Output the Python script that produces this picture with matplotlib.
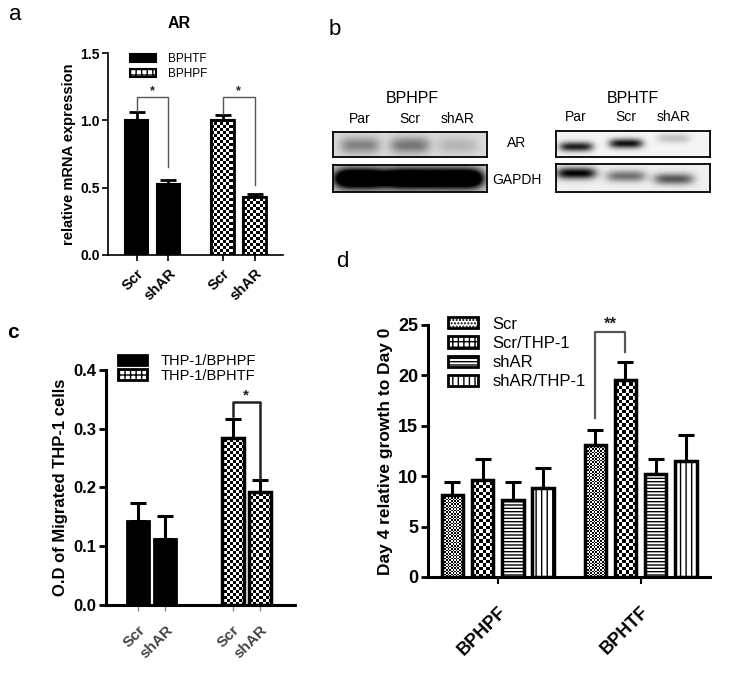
import numpy as np
import matplotlib
matplotlib.use('Agg')
import matplotlib.pyplot as plt
from matplotlib.patches import Patch

plt.rcParams['font.family'] = ['Liberation Sans', 'DejaVu Sans']

# panel a: AR mRNA
a_groups = ['BPHTF', 'BPHPF']
a_conds = ['Scr', 'shAR']
a_mean = [[1.00, 0.53], [1.00, 0.43]]
a_err = [[0.06, 0.03], [0.04, 0.02]]
a_sig = [(1.17, 1.07, 0.65), (1.17, 1.05, 0.52)]

# panel b: western blot band intensities (Par, Scr, shAR)
b_lanes = ['Par', 'Scr', 'shAR']
b_hpf_ar = [0.35, 0.40, 0.15]
b_hpf_gapdh = [1.6, 1.6, 1.6]
b_htf_ar = [0.85, 0.90, 0.20]
b_htf_gapdh = [0.95, 0.50, 0.60]

# panel c: migrated THP-1
c_groups = ['THP-1/BPHPF', 'THP-1/BPHTF']
c_conds = ['Scr', 'shAR']
c_mean = [[0.143, 0.112], [0.285, 0.193]]
c_err = [[0.031, 0.040], [0.032, 0.020]]
c_sig = (0.345, 0.322, 0.215)

# panel d: day 4 growth
d_groups = ['BPHPF', 'BPHTF']
d_series = ['Scr', 'Scr/THP-1', 'shAR', 'shAR/THP-1']
d_mean = [[8.1, 9.6, 7.6, 8.8], [13.1, 19.5, 10.2, 11.5]]
d_err = [[1.3, 2.1, 1.8, 2.0], [1.5, 1.8, 1.5, 2.6]]
d_sig = (24.3, 15.8, 22.3)

fig = plt.figure(figsize=(7.42, 6.78), dpi=100)


def checker(ax, bar, cell_px, z):
    # draw a checkerboard pattern clipped to a bar
    bb = ax.get_position()
    w = bb.width * fig.get_figwidth() * fig.dpi
    h = bb.height * fig.get_figheight() * fig.dpi
    nx, ny = int(round(w / cell_px)), int(round(h / cell_px))
    jj, ii = np.meshgrid(np.arange(nx), np.arange(ny))
    arr = (ii + jj) % 2
    im = ax.imshow(arr, extent=(0, 1, 0, 1), transform=ax.transAxes, cmap='gray',
                   interpolation='nearest', aspect='auto', zorder=z)
    im.set_clip_path(bar)


def style_axes(ax, lw):
    for s in ['top', 'right']:
        ax.spines[s].set_visible(False)
    for s in ['left', 'bottom']:
        ax.spines[s].set_linewidth(lw)


def bracket(ax, x0, x1, top, l, r, lw, color, star, fs):
    ax.plot([x0, x0, x1, x1], [l, top, top, r], color=color, lw=lw, zorder=4)
    ax.text((x0 + x1) / 2, top, star, ha='center', va='bottom', fontsize=fs,
            fontweight='bold', color='#222')


# ---------------- panel a ----------------
ax = fig.add_axes([0.1456, 0.6239, 0.2358, 0.2979])
gap = 2.69
xs_all = []
for g in range(2):
    xs = [g * gap + i for i in range(2)]
    xs_all += xs
    low = [0, 0]
    if g == 0:
        bars = ax.bar(xs, a_mean[g], 0.72, color='black', edgecolor='black', lw=1.5, zorder=2)
    else:
        bars = ax.bar(xs, a_mean[g], 0.72, color='white', edgecolor='black', lw=1.5, zorder=2)
        for b in bars:
            checker(ax, b, 3.0, 2.5)
        ax.bar(xs, a_mean[g], 0.72, fill=False, edgecolor='black', lw=2, zorder=3)
    ax.errorbar(xs, a_mean[g], yerr=[low, a_err[g]], fmt='none', ecolor='black',
                elinewidth=2, capsize=6, capthick=2, zorder=1)
    top, l, r = a_sig[g]
    bracket(ax, xs[0], xs[1], top, l, r, 1.0, '#555', '*', 9)
ax.set_xlim(-0.89, 4.58)
ax.set_ylim(0, 1.5)
ax.set_yticks([0, 0.5, 1.0, 1.5])
ax.set_yticklabels(['0.0', '0.5', '1.0', '1.5'], fontweight='bold', fontsize=10)
ax.set_xticks(xs_all)
ax.set_xticklabels(a_conds * 2, rotation=45, ha='right', rotation_mode='anchor',
                   fontweight='bold', fontsize=10.5)
ax.tick_params(length=4, width=1.2, pad=2)
ax.tick_params(axis='x', pad=4)
style_axes(ax, 1.2)
ax.set_ylabel('relative mRNA expression', fontweight='bold', fontsize=10.5, labelpad=3)
handles = [Patch(facecolor='black', edgecolor='black', lw=1.5),
           Patch(facecolor='white', edgecolor='black', hatch='+++', lw=1.5)]
ax.legend(handles, a_groups, loc='upper left', bbox_to_anchor=(0.175, 0.922),
          bbox_transform=fig.transFigure, frameon=False, fontsize=8.5,
          handlelength=2.2, handleheight=0.7, handletextpad=1.0, labelspacing=0.3,
          borderpad=0, borderaxespad=0)
fig.text(0.241, 0.966, 'AR', ha='center', va='center', fontsize=11.5, fontweight='bold')

# ---------------- panel b ----------------


def blot(rect, strengths, lane_x, ypos, ysig, xhalf, bg):
    bax = fig.add_axes(rect)
    x = np.linspace(0, 1, 240)[None, :]
    y = np.linspace(0, 1, 60)[:, None]
    img = np.full((60, 240), bg)
    for s, xc, yc in zip(strengths, lane_x, ypos):
        img = img + s * np.exp(-((x - xc) / xhalf) ** 4) * np.exp(-((y - yc) / ysig) ** 2)
    bax.imshow(np.clip(img, 0, 1), cmap='gray_r', vmin=0, vmax=1, aspect='auto',
               extent=(0, 1, 1, 0), interpolation='bilinear')
    bax.set_xticks([])
    bax.set_yticks([])
    for s in bax.spines.values():
        s.set_linewidth(1.3)
    return bax


lx_l = [0.175, 0.5, 0.81]
lx_r = [0.13, 0.455, 0.766]
blot([0.4488, 0.7684, 0.2075, 0.0369], b_hpf_ar, lx_l, [0.55] * 3, 0.32, 0.13, 0.14)
blot([0.4488, 0.7168, 0.2075, 0.0398], b_hpf_gapdh, lx_l, [0.5] * 3, 0.38, 0.17, 0.12)
blot([0.7493, 0.7684, 0.2075, 0.0384], b_htf_ar, lx_r, [0.62, 0.5, 0.3], 0.18, 0.11, 0.04)
blot([0.7493, 0.7168, 0.2075, 0.0413], b_htf_gapdh, lx_r, [0.35, 0.45, 0.55], 0.2, 0.13, 0.06)

fig.text(0.5553, 0.855, 'BPHPF', ha='center', va='center', fontsize=11.5)
fig.text(0.8531, 0.854, 'BPHTF', ha='center', va='center', fontsize=11.5)
for lab, xl, xr in zip(b_lanes, lx_l, lx_r):
    fig.text(0.4488 + 0.2075 * xl, 0.825, lab, ha='center', va='center', fontsize=10)
    fig.text(0.7493 + 0.2075 * xr, 0.827, lab, ha='center', va='center', fontsize=10)
fig.text(0.6968, 0.789, 'AR', ha='center', va='center', fontsize=10)
fig.text(0.6968, 0.7345, 'GAPDH', ha='center', va='center', fontsize=10)

# ---------------- panel c ----------------
ax = fig.add_axes([0.1429, 0.1077, 0.2547, 0.3466])
gap = 3.44
xs_all = []
for g in range(2):
    xs = [g * gap + i for i in range(2)]
    xs_all += xs
    if g == 0:
        ax.bar(xs, c_mean[g], 0.8, color='black', edgecolor='black', lw=2, zorder=2)
    else:
        bars = ax.bar(xs, c_mean[g], 0.8, color='white', edgecolor='black', lw=2, zorder=2)
        for b in bars:
            checker(ax, b, 3.0, 2.5)
        ax.bar(xs, c_mean[g], 0.8, fill=False, edgecolor='black', lw=2.5, zorder=3)
    ax.errorbar(xs, c_mean[g], yerr=[[0, 0], c_err[g]], fmt='none', ecolor='black',
                elinewidth=2.2, capsize=6, capthick=2.2, zorder=1)
top, l, r = c_sig
bracket(ax, gap, gap + 1, top, l, r, 1.8, '#222', '*', 11)
ax.set_xlim(-1.16, 5.71)
ax.set_ylim(0, 0.4)
ax.set_yticks([0, 0.1, 0.2, 0.3, 0.4])
ax.set_yticklabels(['0.0', '0.1', '0.2', '0.3', '0.4'], fontweight='bold', fontsize=12)
ax.set_xticks(xs_all)
ax.set_xticklabels(c_conds * 2, rotation=45, ha='right', rotation_mode='anchor',
                   fontweight='bold', fontsize=11, color='#444')
ax.tick_params(length=5, width=2, pad=2)
ax.tick_params(axis='x', pad=9, length=4, width=1, color='#888')
style_axes(ax, 2.2)
ax.set_ylabel('O.D of Migrated THP-1 cells', fontweight='bold', fontsize=12, labelpad=4)
handles = [Patch(facecolor='black', edgecolor='black', lw=2),
           Patch(facecolor='white', edgecolor='black', hatch='+++', lw=2)]
ax.legend(handles, c_groups, loc='upper left', bbox_to_anchor=(0.159, 0.478),
          bbox_transform=fig.transFigure, frameon=False, fontsize=10.5,
          handlelength=2.0, handleheight=0.7, handletextpad=0.9, labelspacing=0.05,
          borderpad=0, borderaxespad=0)

# ---------------- panel d ----------------
ax = fig.add_axes([0.5768, 0.1490, 0.3801, 0.3717])
gap = 4.73
w = 0.71
hatches = [None, None, '-----', '|||']
for g in range(2):
    xs = [g * gap + i for i in range(4)]
    for i in range(4):
        if i < 2:
            b = ax.bar(xs[i], d_mean[g][i], w, color='white', edgecolor='black', lw=2, zorder=2)[0]
            checker(ax, b, 1.6 if i == 0 else 3.4, 2.5)
        else:
            ax.bar(xs[i], d_mean[g][i], w, color='white', edgecolor='black',
                   hatch=hatches[i], lw=2, zorder=2)
        ax.bar(xs[i], d_mean[g][i], w, fill=False, edgecolor='black', lw=2.5, zorder=3)
    ax.errorbar(xs, d_mean[g], yerr=[[0] * 4, d_err[g]], fmt='none', ecolor='black',
                elinewidth=2.2, capsize=6, capthick=2.2, zorder=1)
top, l, r = d_sig
bracket(ax, gap, gap + 1, top, l, r, 1.6, '#555', '**', 12)
ax.set_xlim(-0.81, 8.53)
ax.set_ylim(0, 25)
ax.set_yticks([0, 5, 10, 15, 20, 25])
ax.set_yticklabels(['0', '5', '10', '15', '20', '25'], fontweight='bold', fontsize=13)
ax.set_xticks([1.5, gap + 1.5])
ax.set_xticklabels(d_groups, rotation=45, ha='right', rotation_mode='anchor',
                   fontweight='bold', fontsize=13)
ax.tick_params(length=5, width=2, pad=2)
ax.tick_params(axis='x', pad=14, length=5, width=1.5)
style_axes(ax, 2.2)
ax.set_ylabel('Day 4 relative growth to Day 0', fontweight='bold', fontsize=12.5, labelpad=4)
handles = [Patch(facecolor='white', edgecolor='black', hatch='.....', lw=2),
           Patch(facecolor='white', edgecolor='black', hatch='+++', lw=2),
           Patch(facecolor='white', edgecolor='black', hatch='-----', lw=2),
           Patch(facecolor='white', edgecolor='black', hatch='|||', lw=2)]
ax.legend(handles, d_series, loc='upper left', bbox_to_anchor=(0.6038, 0.533),
          bbox_transform=fig.transFigure, frameon=False, fontsize=12,
          handlelength=1.8, handleheight=0.65, handletextpad=0.85, labelspacing=0.25,
          borderpad=0, borderaxespad=0)

# panel letters
fig.text(0.02, 0.978, 'a', ha='center', va='center', fontsize=16)
fig.text(0.4515, 0.956, 'b', ha='center', va='center', fontsize=16)
fig.text(0.0175, 0.509, 'c', ha='center', va='center', fontsize=15, fontweight='bold')
fig.text(0.462, 0.614, 'd', ha='center', va='center', fontsize=16)

fig.savefig('out.png', dpi=100)
